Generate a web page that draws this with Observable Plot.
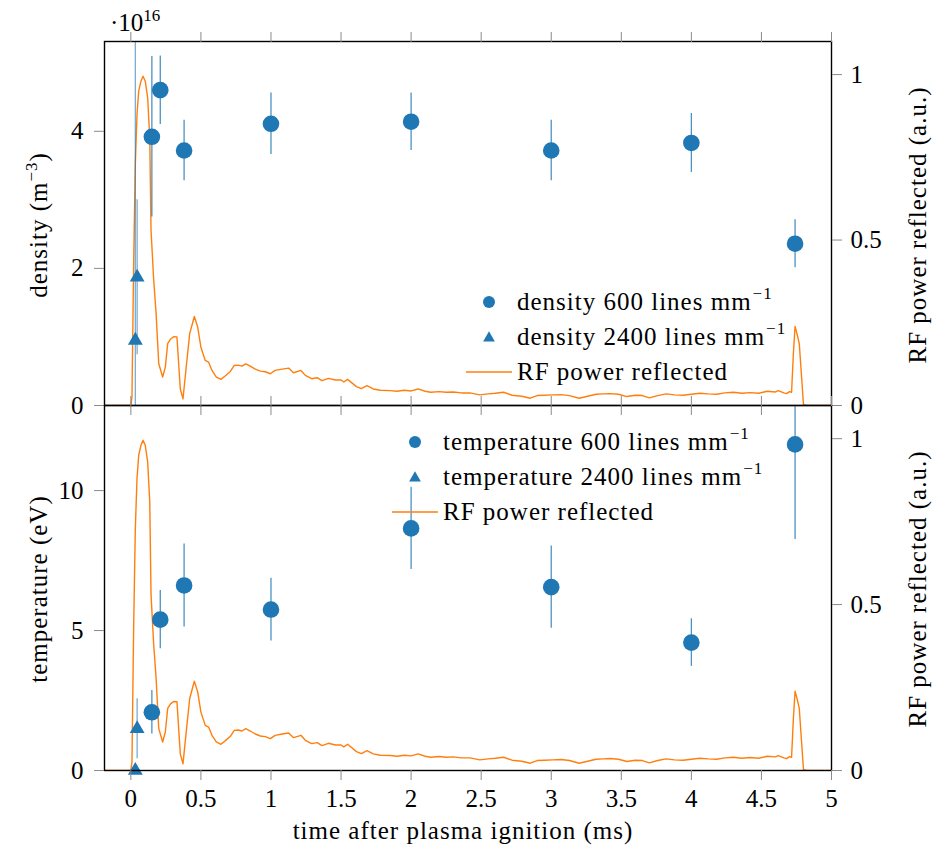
<!DOCTYPE html>
<html><head><meta charset="utf-8">
<script src="https://cdn.jsdelivr.net/npm/d3@7"></script>
<script src="https://cdn.jsdelivr.net/npm/@observablehq/plot@0.6"></script>
<style>
body{margin:0;background:#fff}
#wrap{position:relative;width:934px;height:855px}
#wrap svg{display:block}
#wrap svg, #wrap svg text{font-family:"Liberation Serif","Tinos","Times New Roman","DejaVu Serif",serif !important}
#wrap svg.overlay text{letter-spacing:1px}
</style></head><body><div id="wrap"></div>
<script>
// ---------- data ----------
const xTicks = [0, 0.5, 1, 1.5, 2, 2.5, 3, 3.5, 4, 4.5, 5];
const densTicks = [0, 2, 4];
const tempTicks = [0, 5, 10];
const rfTicks = [0, 0.5, 1];

const rfTime = [-0.19,-0.1,-0.01,0.0,0.008,0.02,0.032,0.044,0.056,0.072,0.087,0.103,0.12,0.135,0.144,0.163,0.18,0.199,0.227,0.246,0.263,0.282,0.305,0.329,0.353,0.372,0.40,0.42,0.453,0.477,0.50,0.531,0.555,0.579,0.61,0.643,0.675,0.71,0.738,0.765,0.793,0.82,0.852,0.888,0.924,0.96,0.995,1.03,1.08,1.126,1.161,1.214,1.245,1.29,1.33,1.364,1.41,1.46,1.50,1.52,1.547,1.61,1.645,1.685,1.73,1.78,1.85,1.90,1.95,2.0,2.05,2.10,2.14,2.2,2.25,2.3,2.36,2.42,2.49,2.55,2.6,2.66,2.72,2.79,2.85,2.9,2.95,3.01,3.07,3.13,3.2,3.26,3.32,3.37,3.42,3.48,3.54,3.6,3.65,3.7,3.76,3.82,3.88,3.94,4.0,4.06,4.12,4.18,4.24,4.3,4.36,4.42,4.48,4.54,4.6,4.62,4.66,4.68,4.70,4.715,4.728,4.74,4.755,4.77,4.80,4.82,5.0];
const rfPower = [0,0,0,0,0.025,0.43,0.73,0.88,0.95,0.98,0.995,0.98,0.93,0.81,0.53,0.38,0.28,0.127,0.086,0.116,0.187,0.2,0.208,0.207,0.05,0.02,0.136,0.217,0.269,0.237,0.176,0.136,0.131,0.106,0.086,0.079,0.09,0.103,0.121,0.122,0.119,0.126,0.119,0.11,0.104,0.102,0.096,0.106,0.11,0.113,0.099,0.106,0.091,0.081,0.084,0.075,0.082,0.077,0.077,0.071,0.079,0.057,0.051,0.06,0.05,0.046,0.045,0.043,0.046,0.044,0.05,0.043,0.04,0.042,0.04,0.041,0.038,0.038,0.032,0.035,0.037,0.04,0.031,0.028,0.022,0.03,0.031,0.032,0.033,0.03,0.022,0.028,0.034,0.035,0.036,0.034,0.027,0.031,0.03,0.023,0.03,0.035,0.032,0.031,0.034,0.037,0.035,0.034,0.038,0.04,0.037,0.039,0.037,0.043,0.041,0.045,0.038,0.036,0.042,0.04,0.157,0.239,0.215,0.187,0.003,0,0];

const t600 = [0.15, 0.21, 0.38, 1, 2, 3, 4, 4.74];
const density600 = [3.92, 4.60, 3.72, 4.11, 4.14, 3.72, 3.83, 2.36];      // ×10^16 m^-3
const density600Err = [1.17, 0.50, 0.44, 0.45, 0.42, 0.44, 0.43, 0.35];
const temp600 = [2.08, 5.39, 6.61, 5.75, 8.65, 6.55, 4.57, 11.65];       // eV
const temp600Err = [0.78, 1.04, 1.48, 1.12, 1.47, 1.47, 0.85, 3.4];

const t2400 = [0.032, 0.045];
const density2400 = [0.95, 1.87];
const density2400Err = [4.8, 1.13];
const temp2400 = [0, 1.49];
const temp2400Err = [0, 1.07];

// ---------- style ----------
const blue = "#1f77b4", orange = "#ff7f0e", tickGray = "#8a8a8a";
const fs = 25;
const xDomain = [-0.188, 5];
const densMax = 5.31, tempMax = 13.04, rfMax = 1.1;
const fmt = v => String(+v.toFixed(2));

const rf = rfTime.map((t, i) => ({t, p: rfPower[i]}));
const pts = (ts, vs, es) => ts.map((t, i) => ({t, v: vs[i], e: es[i]}));

function panel({height, marginTop, marginBottom, yMax, yTicks, d600, d2400, bottomLabels}) {
  const k = yMax / rfMax;
  return Plot.plot({
    width: 934, height, marginLeft: 104, marginRight: 103, marginTop, marginBottom,
    x: {domain: xDomain},
    y: {domain: [0, yMax]},
    style: {fontSize: fs + "px", overflow: "visible", background: "transparent", color: "black"},
    marks: [
      Plot.line(rf, {x: "t", y: d => d.p * k, stroke: orange, strokeWidth: 1.4, clip: true}),
      Plot.ruleX(d600, {x: "t", y1: d => d.v - d.e, y2: d => d.v + d.e, stroke: blue, strokeOpacity: 0.8, strokeWidth: 1.3, clip: true}),
      Plot.ruleX(d2400.filter(d => d.e > 0), {x: "t", y1: d => d.v - d.e, y2: d => d.v + d.e, stroke: blue, strokeOpacity: 0.6, strokeWidth: 1.3, clip: true}),
      Plot.dot(d600, {x: "t", y: "v", r: 8.3, fill: blue, symbol: "circle"}),
      Plot.dot(d2400, {x: "t", y: "v", r: 5.5, fill: blue, symbol: "triangle"}),
      Plot.frame({stroke: "black", strokeWidth: 1.4}),
      Plot.axisY({ticks: yTicks, anchor: "left", tickSize: 10, tickPadding: 11, stroke: tickGray, fill: "black", label: null, tickFormat: fmt}),
      Plot.axisY({ticks: rfTicks.map(v => v * k), anchor: "right", tickSize: 10, tickPadding: 9, stroke: tickGray, fill: "black", label: null, tickFormat: v => fmt(v / k)}),
      Plot.axisX({ticks: xTicks, anchor: "top", tickSize: 10, stroke: tickGray, label: null, tickFormat: () => ""}),
      Plot.axisX({ticks: xTicks, anchor: "bottom", tickSize: 10, tickPadding: 9, stroke: tickGray, fill: "black", label: null, tickFormat: bottomLabels ? fmt : () => ""})
    ]
  });
}

const wrap = document.getElementById("wrap");

wrap.appendChild(panel({
  height: 405, marginTop: 41, marginBottom: 0, yMax: densMax, yTicks: densTicks,
  d600: pts(t600, density600, density600Err), d2400: pts(t2400, density2400, density2400Err),
  bottomLabels: false
}));
wrap.appendChild(panel({
  height: 450, marginTop: 0, marginBottom: 85, yMax: tempMax, yTicks: tempTicks,
  d600: pts(t600, temp600, temp600Err), d2400: pts(t2400, temp2400, temp2400Err),
  bottomLabels: true
}));

// ---------- overlay: axis titles, multiplier, legends ----------
const ov = d3.select(wrap).append("svg").attr("class", "overlay")
  .attr("width", 934).attr("height", 855)
  .style("position", "absolute").style("left", 0).style("top", 0).style("pointer-events", "none")
  .style("font-size", fs + "px");

function label(x, y, rot, parts) {
  const t = ov.append("text").attr("transform", `translate(${x},${y})` + (rot ? " rotate(-90)" : ""))
    .attr("text-anchor", "middle").attr("y", 8);
  parts.forEach(p => {
    if (typeof p === "string") t.append("tspan").text(p);
    else { t.append("tspan").attr("dy", -10).attr("font-size", 17).text(p.sup); t.append("tspan").attr("dy", 10).text(p.after || ""); }
  });
}
label(39, 225, true, ["density (m", {sup: "−3", after: ")"}]);
label(39, 589, true, ["temperature (eV)"]);
label(918, 225, true, ["RF power reflected (a.u.)"]);
label(918, 589, true, ["RF power reflected (a.u.)"]);
label(463, 831, false, ["time after plasma ignition (ms)"]);

const mult = ov.append("text").attr("x", 110).attr("y", 31).style("letter-spacing", "0px");
mult.append("tspan").text("·10");
mult.append("tspan").attr("dy", -10).attr("font-size", 17).text("16");

function legend(y0, gap, mx, tx, words) {
  const rows = [
    {kind: "circle", label: words + " 600 lines mm", sup: "−1"},
    {kind: "triangle", label: words + " 2400 lines mm", sup: "−1"},
    {kind: "line", label: "RF power reflected"}
  ];
  rows.forEach((r, i) => {
    const y = y0 + i * gap;
    if (r.kind === "circle") ov.append("circle").attr("cx", mx).attr("cy", y).attr("r", 6).attr("fill", blue);
    if (r.kind === "triangle") ov.append("path").attr("d", d3.symbol(d3.symbolTriangle, 60)()).attr("transform", `translate(${mx},${y + 1})`).attr("fill", blue);
    if (r.kind === "line") ov.append("line").attr("x1", mx - 23).attr("x2", mx + 23).attr("y1", y).attr("y2", y).attr("stroke", orange).attr("stroke-width", 1.4);
    const t = ov.append("text").attr("x", tx).attr("y", y + 8).text(r.label);
    if (r.sup) t.append("tspan").attr("dy", -11).attr("font-size", 17).attr("dx", 1).text(r.sup);
  });
}
legend(302, 35, 489, 517, "density");
legend(442, 35, 415, 443, "temperature");
</script></body></html>
